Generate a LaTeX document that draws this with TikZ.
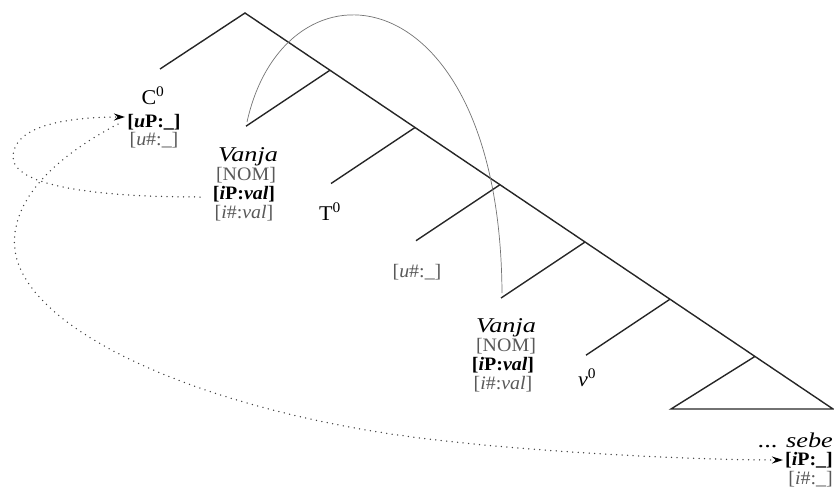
\documentclass[tikz,border=0pt]{standalone}
\usepackage{fontspec}
\setmainfont{Liberation Serif}[FakeStretch=1.05]
\newfontfamily\wideserif{Liberation Serif}[FakeStretch=1.25]
\usetikzlibrary{arrows.meta}
\begin{document}
\begin{tikzpicture}[x=1pt,y=-1pt,
  tree/.style={line width=1.4pt, draw=black!85, line join=miter},
  lbl/.style={anchor=base, inner sep=0pt, font=\fontsize{19}{19}\selectfont},
  big/.style={anchor=base, inner sep=0pt, font=\fontsize{21}{22}\selectfont},
  wide/.style={anchor=base, inner sep=0pt, font=\fontsize{21}{22}\selectfont\wideserif\itshape},
  glbl/.style={lbl, text=black!65},
  rlbl/.style={lbl, anchor=base east},
  grlbl/.style={glbl, anchor=base east},
  dots/.style={line width=1.5pt, draw=black!75, dash pattern=on 0pt off 5.5pt, line cap=round,
    -{Stealth[length=11pt,width=7pt,black]}},
  move/.style={line width=0.7pt, draw=black!55}]
\useasboundingbox (0,0) rectangle (834,490);
% tree points
\coordinate (P0) at (245,13);
\coordinate (P1) at (330,70.2);
\coordinate (P2) at (415,127.5);
\coordinate (P3) at (500,184.7);
\coordinate (P4) at (585,242);
\coordinate (P5) at (670,299.2);
\coordinate (P6) at (755,356.4);
\coordinate (TR) at (833,409);
\coordinate (TL) at (671,409);
\coordinate (C0end) at (160,69);
\coordinate (B1) at (246,126.2);
\coordinate (B2) at (331,183.5);
\coordinate (B3) at (416,240.7);
\coordinate (B4) at (501,298);
\coordinate (B5) at (586,355.2);
% tree
\draw[tree] (C0end) -- (P0) -- (TR) -- (TL) -- (P6);
\draw[tree] (P1) -- (B1);
\draw[tree] (P2) -- (B2);
\draw[tree] (P3) -- (B3);
\draw[tree] (P4) -- (B4);
\draw[tree] (P5) -- (B5);
% labels
\node[big] (c0) at (153,104) {C\textsuperscript{0}};
\node[lbl] (cup) at (154,127) {\textbf{[\textit{u}P:\_]}};
\node[glbl] (cun) at (154,145) {[\textit{u}\#:\_]};
\node[wide] (vanja1) at (248,161) {Vanja};
\node[glbl] (nom1) at (246,180) {[NOM]};
\node[lbl] (ip1) at (244,199) {\textbf{[\textit{i}P:\textit{val}]}};
\node[glbl] (in1) at (244,218) {[\textit{i}\#:\textit{val}]};
\node[big] (t0) at (330,220) {T\textsuperscript{0}};
\node[glbl] (tun) at (417,277) {[\textit{u}\#:\_]};
\node[wide] (vanja2) at (506,332) {Vanja};
\node[glbl] (nom2) at (506,351) {[NOM]};
\node[lbl] (ip2) at (503,370) {\textbf{[\textit{i}P:\textit{val}]}};
\node[glbl] (in2) at (503,389) {[\textit{i}\#:\textit{val}]};
\node[big] (v0) at (587,386) {\textit{v}\textsuperscript{0}};
\node[wide, anchor=base east] (sebe) at (833,447) {{\upshape ...} sebe};
\node[rlbl] (sip) at (833,465) {\textbf{[\textit{i}P:\_]}};
\node[grlbl] (sin) at (833,484) {[\textit{i}\#:\_]};
% movement arc
\coordinate (arcS) at (247,122);
\coordinate (arcE) at (502,293);
\draw[move] (arcS) .. controls (285,-50) and (500,-30) .. (arcE);
% agree arrows
\coordinate (d1s) at (200,197);
\coordinate (d1e) at (125,117);
\coordinate (d1m) at (13,157);
\draw[dots] (d1s) .. controls (90,197) and (13,185) .. (d1m) .. controls (13,125) and (70,117) .. (d1e);
\coordinate (d2s) at (118,124);
\coordinate (d2a) at (15,250);
\coordinate (d2b) at (420,438);
\coordinate (d2e) at (783,460);
\draw[dots] (d2s) .. controls (40,165) and (10,210) .. (d2a) .. controls (25,330) and (200,410) .. (d2b) .. controls (540,453) and (700,460) .. (d2e);
\end{tikzpicture}
\end{document}
